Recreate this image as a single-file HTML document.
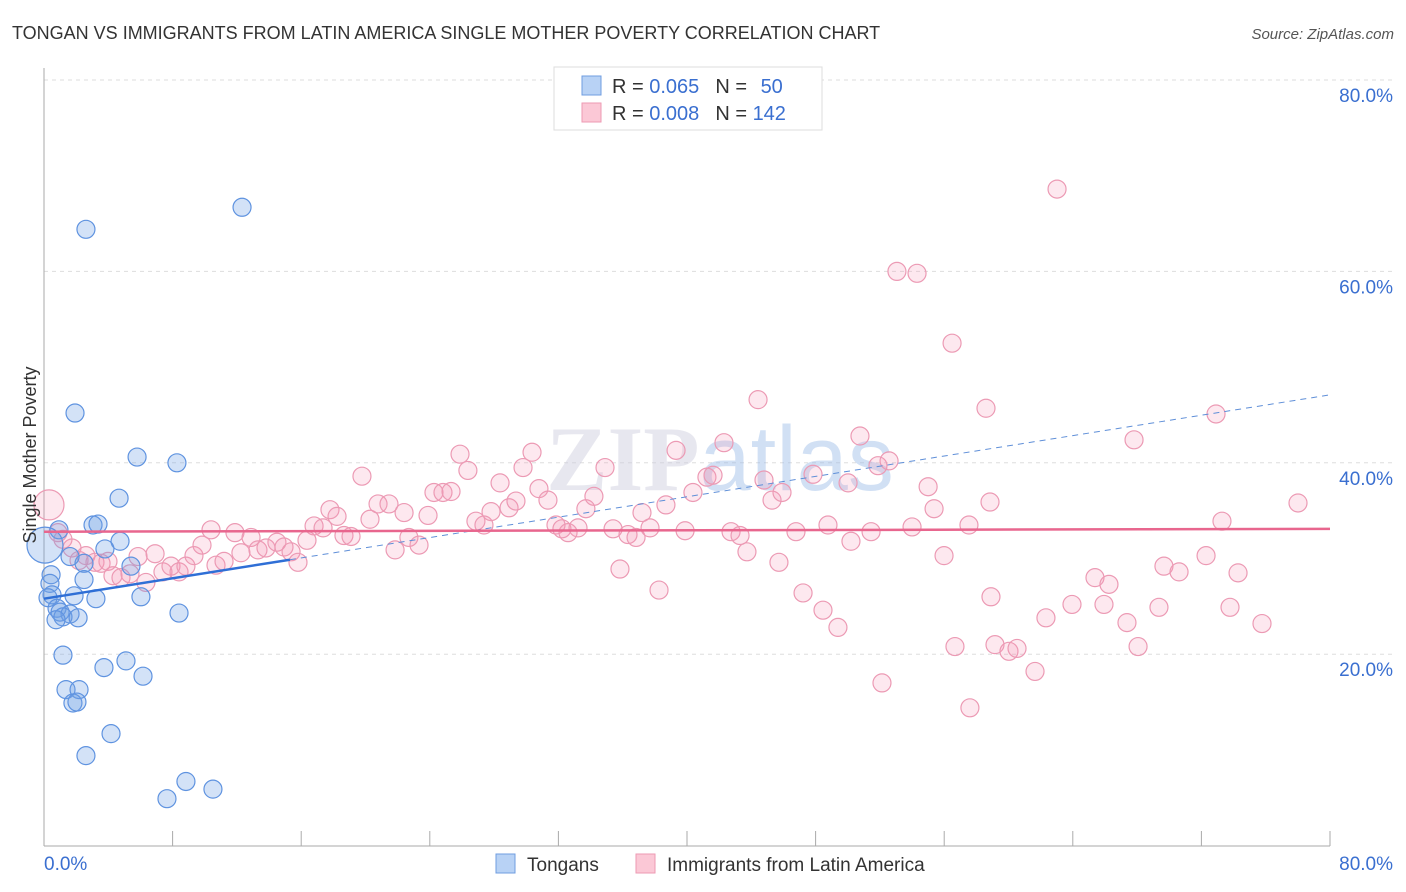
<!DOCTYPE html>
<html><head><meta charset="utf-8"><style>
body{margin:0;background:#fff;font-family:"Liberation Sans",sans-serif}
svg{display:block}
</style></head><body>
<svg width="1406" height="892" xmlns="http://www.w3.org/2000/svg">
<text x="12" y="39" font-size="18" fill="#333">TONGAN VS IMMIGRANTS FROM LATIN AMERICA SINGLE MOTHER POVERTY CORRELATION CHART</text>
<text x="1394" y="39" font-size="15" fill="#555" font-style="italic" text-anchor="end">Source: ZipAtlas.com</text>
<g id="grid"></g>
<text x="720" y="490" font-size="92" fill="#ccd" opacity="0.45" text-anchor="middle" font-family="Liberation Serif,serif" font-weight="bold">ZIP<tspan fill="#9bbbe8" font-family="Liberation Sans,sans-serif" font-weight="normal">atlas</tspan></text>
<g id="pts"></g>
<g id="trend"></g>
<text x="36" y="455" font-size="18" fill="#333" text-anchor="middle" transform="rotate(-90 36 455)">Single Mother Poverty</text>
<g>
<rect x="554" y="67" width="268" height="63" fill="#fff" stroke="#ddd"/>
<rect x="582" y="76" width="19" height="19" fill="#b8d2f5" stroke="#6f9de0"/>
<rect x="582" y="103" width="19" height="19" fill="#fbc8d6" stroke="#ee9ab3"/>
<text x="612" y="93" font-size="20" fill="#333">R = <tspan fill="#3a6fd0">0.065</tspan><tspan dx="16">N = </tspan><tspan fill="#3a6fd0" dx="8">50</tspan></text>
<text x="612" y="120" font-size="20" fill="#333">R = <tspan fill="#3a6fd0">0.008</tspan><tspan dx="16">N = </tspan><tspan fill="#3a6fd0">142</tspan></text>
</g>
<g>
<rect x="496" y="854" width="19" height="19" fill="#b8d2f5" stroke="#6f9de0"/>
<text x="527" y="871" font-size="19" fill="#333">Tongans</text>
<rect x="636" y="854" width="19" height="19" fill="#fbc8d6" stroke="#ee9ab3"/>
<text x="667" y="871" font-size="19" fill="#333">Immigrants from Latin America</text>
</g>
</svg>
<script>
const yTicks=[20,40,60,80];
const yTickLabels=["20.0%","40.0%","60.0%","80.0%"];
const xTickLabels=["0.0%","80.0%"];
const blueX=[2.61,12.32,1.93,5.79,8.27,4.67,3.05,3.36,0.93,4.73,3.79,2.49,5.41,1.62,0.44,0.37,2.49,0.5,0.25,1.87,3.23,6.03,0.81,1.0,1.62,1.18,2.12,0.75,8.4,1.18,3.73,5.1,6.16,1.37,2.18,1.8,2.05,4.17,2.61,7.65,8.83,10.51,0.06];
const blueY=[64.4,66.7,45.2,40.6,40.0,36.3,33.5,33.6,33.0,31.8,31.0,29.5,29.2,30.2,28.3,27.4,27.8,26.2,25.9,26.1,25.8,26.0,24.8,24.4,24.2,23.9,23.8,23.6,24.3,19.9,18.6,19.3,17.7,16.3,16.3,14.9,15.0,11.7,9.4,4.9,6.7,5.9,31.4];
const pinkX=[0.31,0.87,1.18,1.74,2.18,2.61,3.17,3.55,3.98,4.29,4.79,5.35,5.85,6.34,6.91,7.4,7.9,8.4,8.83,9.33,9.83,10.39,10.7,11.2,11.88,12.25,12.88,13.31,13.81,14.49,14.93,15.37,15.8,16.36,16.8,17.36,17.79,18.23,18.66,19.1,19.78,20.28,20.78,21.46,21.84,22.4,22.7,23.33,23.89,24.26,24.82,25.32,25.88,26.37,26.87,27.37,27.81,28.37,28.93,29.36,29.8,30.36,30.79,31.35,31.85,32.22,32.6,33.22,33.71,34.21,34.9,35.4,35.83,36.33,36.83,37.2,37.7,38.26,38.69,39.32,39.88,40.37,41.24,41.62,42.3,42.74,43.3,43.73,44.42,44.79,45.29,45.72,45.91,46.78,47.22,47.84,48.46,48.77,49.39,50.02,50.2,50.76,51.45,51.88,52.13,52.57,53.06,54.31,54.0,55.0,55.37,55.99,56.49,56.67,57.54,57.6,58.6,58.85,58.91,59.16,60.03,60.53,61.65,62.33,63.02,63.95,65.38,65.94,66.25,67.37,67.81,68.06,69.36,69.67,70.61,72.29,72.91,73.28,73.78,74.28,75.77,78.01];
const pinkY=[35.6,32.7,32.0,31.1,29.8,30.3,29.6,29.5,29.7,28.2,28.0,28.4,30.2,27.5,30.5,28.6,29.2,28.6,29.2,30.3,31.4,33.0,29.3,29.7,32.7,30.6,32.2,30.9,31.1,31.7,31.2,30.7,29.6,31.9,33.4,33.2,35.1,34.4,32.4,32.3,38.6,34.1,35.7,35.7,30.9,34.8,32.2,31.4,34.5,36.9,36.9,37.0,40.9,39.2,33.9,33.5,34.9,37.9,35.3,36.0,39.5,41.1,37.3,36.1,33.5,33.1,32.7,33.2,35.2,36.5,39.5,33.1,28.9,32.5,32.2,34.8,33.2,26.7,35.6,41.3,32.9,36.9,38.5,38.7,42.1,32.8,32.4,30.7,46.6,38.2,36.1,29.6,36.9,32.8,26.4,38.8,24.6,33.5,22.8,37.9,31.8,42.8,32.8,39.7,17.0,40.2,60.0,59.8,33.3,37.5,35.2,30.3,52.5,20.8,33.5,14.4,45.7,35.9,26.0,21.0,20.3,20.6,18.2,23.8,68.6,25.2,28.0,25.2,27.3,23.3,42.4,20.8,24.9,29.2,28.6,30.3,45.1,33.9,24.9,28.5,23.2,35.8];
const blueTrend=[25.8,47.1]; // y at x=0 and x=80
const blueSolidEnd=15.3;
const pinkTrend=[32.8,33.1];
const NS="http://www.w3.org/2000/svg";
const X=v=>44+v*(1330-44)/80;
const Y=v=>845.6-v*(845.6-80)/80;
function mk(t,a,p){const e=document.createElementNS(NS,t);for(const k in a)e.setAttribute(k,a[k]);p.appendChild(e);return e;}
const grid=document.getElementById('grid');
yTicks.forEach((t,i)=>{
  const l=mk('line',{x1:44,x2:1393,y1:Y(t),y2:Y(t),stroke:'#ddd','stroke-dasharray':'4 4'},grid);
  
  
  const tx=mk('text',{x:1393,y:Y(t)+22,'font-size':19,fill:'#3a6fd0','text-anchor':'end'},grid);
  tx.textContent=yTickLabels[i];
  
  
});
const ax=mk('line',{x1:44,x2:44,y1:68,y2:846,stroke:'#aaa'},grid);


const bx=mk('line',{x1:44,x2:1330,y1:846,y2:846,stroke:'#aaa'},grid);


for(let i=1;i<=10;i++){
  const t=mk('line',{x1:X(i*8),x2:X(i*8),y1:831,y2:846,stroke:'#aaa'},grid);
  
  
}
[[0,'start',44],[80,'end',1393]].forEach((d,i)=>{
  const tx=mk('text',{x:d[2],y:870,'font-size':19,fill:'#3a6fd0','text-anchor':d[1]},grid);
  tx.textContent=xTickLabels[i];
  
  
});
const pts=document.getElementById('pts');
pinkX.forEach((x,i)=>{
  const c=mk('circle',{cx:X(x),cy:Y(pinkY[i]),r:i===0?15:9,fill:'rgba(245,150,180,0.22)',stroke:'#ec9ab4','stroke-width':1.2},pts);
  
  
});
blueX.forEach((x,i)=>{
  const c=mk('circle',{cx:X(x),cy:Y(blueY[i]),r:i===blueX.length-1?18:9,fill:'rgba(110,160,230,0.3)',stroke:'#5f93e0','stroke-width':1.2},pts);
  
  
});
const tr=document.getElementById('trend');
const by=x=>blueTrend[0]+(blueTrend[1]-blueTrend[0])*x/80;
const l1=mk('line',{x1:X(0),y1:Y(by(0)),x2:X(blueSolidEnd),y2:Y(by(blueSolidEnd)),stroke:'#2f6fd6','stroke-width':2.5},tr);


const l2=mk('line',{x1:X(blueSolidEnd),y1:Y(by(blueSolidEnd)),x2:X(80),y2:Y(by(80)),stroke:'#5f8fd8','stroke-width':1,'stroke-dasharray':'6 5'},tr);


const l3=mk('line',{x1:X(0),y1:Y(pinkTrend[0]),x2:X(80),y2:Y(pinkTrend[1]),stroke:'#e8668e','stroke-width':2.5},tr);


</script>
</body></html>
